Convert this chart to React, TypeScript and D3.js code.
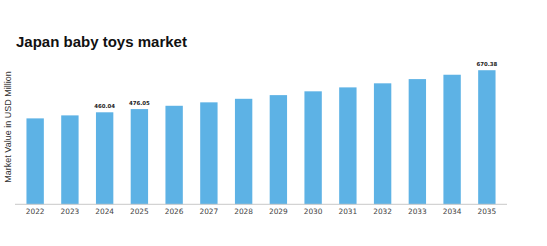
import React from "react";
import * as d3 from "d3";

const years = ["2022","2023","2024","2025","2026","2027","2028","2029","2030","2031","2032","2033","2034","2035"];
const values = [429.6, 444.6, 460.04, 476.05, 492.6, 509.8, 527.5, 545.9, 564.9, 584.6, 604.9, 626.0, 647.8, 670.38];
const labeledYears = ["2024", "2025", "2035"];
const title = "Japan baby toys market";
const yAxisTitle = "Market Value in USD Million";

export default function App() {
  const W = 547, H = 246;
  const x0 = 15, x1 = 507, yBase = 204.3;
  const x = d3.scaleBand<string>().domain(years).range([x0, x1]).paddingInner(0.5).paddingOuter(0.33);
  const y = d3.scaleLinear().domain([0, 700]).range([yBase, yBase - 140]);
  return (
    <svg width={W} height={H} style={{ position: "absolute", left: 0, top: 0, background: "#fff" }}>
      <text x={16} y={47} fontFamily="Liberation Sans, Arial, sans-serif" fontWeight="bold" fontSize={15} fill="#111">{title}</text>
      <text transform={`translate(11,127) rotate(-90)`} textAnchor="middle" fontFamily="Liberation Sans, Arial, sans-serif" fontSize={9} fill="#333">{yAxisTitle}</text>
      {years.map((yr, i) => (
        <rect key={yr} x={x(yr)} y={y(values[i])} width={x.bandwidth()} height={yBase - y(values[i])} fill="#5DB2E5" />
      ))}
      <line x1={x0} x2={x1} y1={yBase} y2={yBase} stroke="#c8c8c8" strokeWidth={1} />
      {years.map((yr) => (
        <text key={"t" + yr} x={(x(yr) as number) + x.bandwidth() / 2} y={213.5} textAnchor="middle" fontFamily="DejaVu Sans, sans-serif" fontSize={7.4} fill="#444">{yr}</text>
      ))}
      {years.map((yr, i) => labeledYears.includes(yr) ? (
        <text key={"l" + yr} x={(x(yr) as number) + x.bandwidth() / 2} y={y(values[i]) - 3.8} textAnchor="middle" fontFamily="DejaVu Sans, sans-serif" fontWeight="bold" fontSize={5.4} fill="#222">{values[i].toFixed(2)}</text>
      ) : null)}
    </svg>
  );
}
